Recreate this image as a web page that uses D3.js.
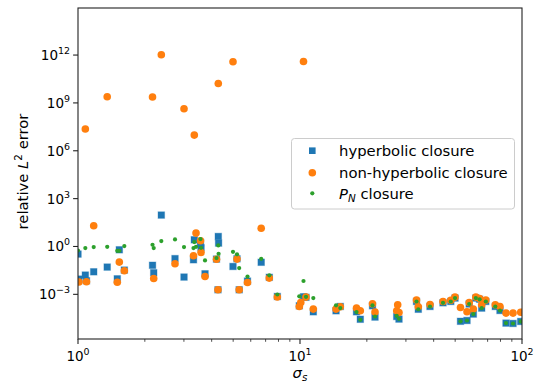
<!DOCTYPE html>
<html>
<head>
<meta charset="utf-8">
<script src="https://cdn.jsdelivr.net/npm/d3@7"></script>
<style>
  body { margin: 0; background: #fff; }
  text { font-family: "DejaVu Sans", sans-serif; fill: #000; }
</style>
</head>
<body>
<svg id="chart" width="537" height="386"></svg>
<script>
// Scale parameter of each test case
const sigma = [
  1.000, 1.010, 1.079, 1.092, 1.177, 1.354, 1.503, 1.535, 1.617, 2.166,
  2.193, 2.373, 2.735, 3.003, 3.313, 3.341, 3.401, 3.563, 3.582, 3.734,
  4.206, 4.271, 4.285, 4.298, 4.991, 5.202, 5.322, 5.801, 6.687, 7.272,
  7.904, 9.927, 10.08, 10.37, 10.64, 11.48, 14.53, 15.19, 17.97, 18.69,
  21.21, 21.77, 27.27, 27.55, 27.92, 33.48, 34.11, 38.51, 44.07, 47.78,
  49.91, 52.84, 56.53, 57.83, 60.35, 61.94, 64.42, 65.84, 68.70, 75.80,
  79.58, 84.72, 91.11, 98.65
];

// Relative L2 error for each closure (null = no result)
const hyperbolic = [
  0.334, 0.0090, 0.0161, 0.0071, 0.0259, 0.0511, 0.0094, 0.621, 0.0331, 0.0663,
  0.0225, 93.0, 0.174, 0.0121, 0.147, 2.63, null, 1.71, 0.829, 0.0194,
  0.162, 0.00193, 4.24, 1.63, 0.0557, 0.169, 0.00193, 0.00677, 0.102, 0.0117,
  7.33e-4, 1.91e-4, null, 7.02e-4, 6.53e-4, 8.05e-5, 9.31e-5, 1.73e-4, 8.05e-5, 2.73e-5,
  1.91e-4, 3.75e-5, 4.09e-5, null, 2.81e-5, 3.56e-4, 1.16e-4, 1.73e-4, 2.95e-4, 3.56e-4,
  5.82e-4, 2.04e-5, 2.29e-5, 2.48e-4, 5.78e-5, 5.82e-4, 4.90e-4, 1.37e-4, 3.56e-4, 1.73e-4,
  9.71e-5, 1.57e-5, 1.49e-5, 1.99e-5
];

const nonHyperbolic = [
  null, 0.0059, 2.3e7, 0.0061, 19.9, 2.43e9, 0.0057, 0.105, 0.0299, 2.33e9,
  0.0099, 1.04e12, 0.0823, 4.3e8, 0.261, 9.6e6, 6.92, 2.28, 0.421, 0.0132,
  0.158, 0.00193, 1.66e10, null, 3.8e11, 0.162, 0.00193, 0.00553, 13.8, 0.0104,
  6.82e-4, 1.73e-4, 3.08e-4, 3.97e11, 6.72e-4, 1.19e-4, 1.19e-4, 1.66e-4, 1.37e-4, 9.31e-5,
  2.56e-4, 7.71e-5, 9.31e-5, 2.21e-4, 7.28e-5, 4.36e-4, 1.66e-4, 2.31e-4, 3.56e-4, 4.24e-4,
  6.72e-4, 1.50e-4, 8.05e-5, 3.08e-4, 1.21e-4, 6.72e-4, 5.50e-4, 2.21e-4, 4.36e-4, 2.21e-4,
  1.73e-4, 6.67e-5, 6.67e-5, 7.50e-5
];

const pnClosure = [
  0.561, null, 0.794, null, 0.917, 0.958, 0.537, 0.537, 1.06, 1.28,
  0.794, 2.18, 2.75, 0.917, 0.794, 1.89, 0.958, 2.91, 0.829, 0.133,
  0.187, null, 1.16, 0.349, 0.465, 0.324, 0.0442, 0.0130, 0.169, 0.0156,
  9.79e-4, 7.55e-4, null, 6.87e-3, 7.02e-4, 5.82e-4, 2.06e-4, 1.37e-4, 7.71e-5, 2.54e-5,
  2.06e-4, 4.09e-5, 4.52e-5, null, 2.93e-5, 3.56e-4, 1.16e-4, 1.73e-4, 2.95e-4, 3.56e-4,
  5.82e-4, 2.04e-5, 2.29e-5, 2.48e-4, 5.78e-5, 5.82e-4, 4.90e-4, 1.37e-4, 3.56e-4, 1.73e-4,
  9.71e-5, 1.57e-5, 1.49e-5, 1.99e-5
];

const xTickExps = [0, 1, 2];
const yTickExps = [-3, 0, 3, 6, 9, 12];
const xMinorTicks = [2, 3, 4, 5, 6, 7, 8, 9, 20, 30, 40, 50, 60, 70, 80, 90];
const legendLabels = ["hyperbolic closure", "non-hyperbolic closure", "closure"];

const colors = { blue: "#1f77b4", orange: "#ff7f0e", green: "#2ca02c" };

const svg = d3.select("#chart");
const mLeft = 78, mRight = 522, mTop = 8, mBottom = 339;

const x = d3.scaleLog().domain([1, 100]).range([mLeft, mRight]);
const y = d3.scaleLog().domain([Math.pow(10, -5.8), Math.pow(10, 14.95)]).range([mBottom, mTop]);

svg.append("defs").append("clipPath").attr("id", "plot-area")
  .append("rect").attr("x", mLeft).attr("y", mTop)
  .attr("width", mRight - mLeft).attr("height", mBottom - mTop);

const plot = svg.append("g").attr("clip-path", "url(#plot-area)");

const rows = sigma.map((s, i) => ({ s, h: hyperbolic[i], n: nonHyperbolic[i], p: pnClosure[i] }));

// Hyperbolic closure: squares
const sq = 6.6;
plot.append("g").selectAll("rect")
  .data(rows.filter(d => d.h != null))
  .join("rect")
  .attr("x", d => x(d.s) - sq / 2)
  .attr("y", d => y(d.h) - sq / 2)
  .attr("width", sq).attr("height", sq)
  .attr("fill", colors.blue)
  .attr("stroke", "rgba(31,119,180,0.35)")
  .attr("stroke-width", 1);

// Non-hyperbolic closure: circles
plot.append("g").selectAll("circle")
  .data(rows.filter(d => d.n != null))
  .join("circle")
  .attr("cx", d => x(d.s))
  .attr("cy", d => y(d.n))
  .attr("r", 3.8)
  .attr("fill", colors.orange);

// P_N closure: small dots
plot.append("g").selectAll("circle")
  .data(rows.filter(d => d.p != null))
  .join("circle")
  .attr("cx", d => x(d.s))
  .attr("cy", d => y(d.p))
  .attr("r", 2.1)
  .attr("fill", colors.green);

// Axes frame
svg.append("rect")
  .attr("x", mLeft).attr("y", mTop)
  .attr("width", mRight - mLeft).attr("height", mBottom - mTop)
  .attr("fill", "none").attr("stroke", "#222").attr("stroke-width", 1.1);

const tickFont = 13.5;
const labelFont = 14.8;

// X ticks
const xAxis = svg.append("g");
xTickExps.forEach(e => {
  const px = x(Math.pow(10, e));
  xAxis.append("line").attr("x1", px).attr("x2", px)
    .attr("y1", mBottom).attr("y2", mBottom + 4.9)
    .attr("stroke", "#222").attr("stroke-width", 1.1);
  const t = xAxis.append("text").attr("x", px).attr("y", mBottom + 22)
    .attr("text-anchor", "middle").attr("font-size", tickFont);
  t.append("tspan").text("10");
  t.append("tspan").attr("dy", -6).attr("font-size", tickFont * 0.7).text(String(e));
});
xMinorTicks.forEach(v => {
  const px = x(v);
  xAxis.append("line").attr("x1", px).attr("x2", px)
    .attr("y1", mBottom).attr("y2", mBottom + 2.8)
    .attr("stroke", "#222").attr("stroke-width", 0.8);
});

// Y ticks
const yAxis = svg.append("g");
yTickExps.forEach(e => {
  const py = y(Math.pow(10, e));
  yAxis.append("line").attr("x1", mLeft - 4.9).attr("x2", mLeft)
    .attr("y1", py).attr("y2", py)
    .attr("stroke", "#222").attr("stroke-width", 1.1);
  const t = yAxis.append("text").attr("x", mLeft - 8).attr("y", py + 5)
    .attr("text-anchor", "end").attr("font-size", tickFont);
  t.append("tspan").text("10");
  t.append("tspan").attr("dy", -6).attr("font-size", tickFont * 0.7)
    .text(e < 0 ? "\u2212" + Math.abs(e) : String(e));
});

// Axis labels
const xl = svg.append("text").attr("x", (mLeft + mRight) / 2).attr("y", 378)
  .attr("text-anchor", "middle").attr("font-size", labelFont);
xl.append("tspan").attr("font-style", "italic").text("\u03C3");
xl.append("tspan").attr("font-style", "italic").attr("dy", 3).attr("font-size", labelFont * 0.7).text("s");

const yl = svg.append("text")
  .attr("transform", `translate(27.5,${(mTop + mBottom) / 2 - 2}) rotate(-90)`)
  .attr("text-anchor", "middle").attr("font-size", labelFont);
yl.append("tspan").text("relative ");
yl.append("tspan").attr("font-style", "italic").text("L");
yl.append("tspan").attr("dy", -6).attr("font-size", labelFont * 0.7).text("2");
yl.append("tspan").attr("dy", 6).text(" error");

// Legend
const lg = svg.append("g");
lg.append("rect").attr("x", 291.5).attr("y", 138.5).attr("width", 223).attr("height", 70.5)
  .attr("rx", 3).attr("fill", "rgba(255,255,255,0.8)").attr("stroke", "#cccccc").attr("stroke-width", 1);
const rowY = [150.7, 172.7, 193.3];
const mx = 312.3, tx = 339;
lg.append("rect").attr("x", mx - sq / 2).attr("y", rowY[0] - sq / 2)
  .attr("width", sq).attr("height", sq).attr("fill", colors.blue);
lg.append("circle").attr("cx", mx).attr("cy", rowY[1]).attr("r", 3.8).attr("fill", colors.orange);
lg.append("circle").attr("cx", mx).attr("cy", rowY[2]).attr("r", 2.1).attr("fill", colors.green);
lg.append("text").attr("x", tx).attr("y", rowY[0] + 5.3).attr("font-size", labelFont).text(legendLabels[0]);
lg.append("text").attr("x", tx).attr("y", rowY[1] + 5.3).attr("font-size", labelFont).text(legendLabels[1]);
const l3 = lg.append("text").attr("x", tx).attr("y", rowY[2] + 5.3).attr("font-size", labelFont);
l3.append("tspan").attr("font-style", "italic").text("P");
l3.append("tspan").attr("font-style", "italic").attr("dy", 3).attr("font-size", labelFont * 0.7).text("N");
l3.append("tspan").attr("dy", -3).text(" " + legendLabels[2]);
</script>
</body>
</html>
